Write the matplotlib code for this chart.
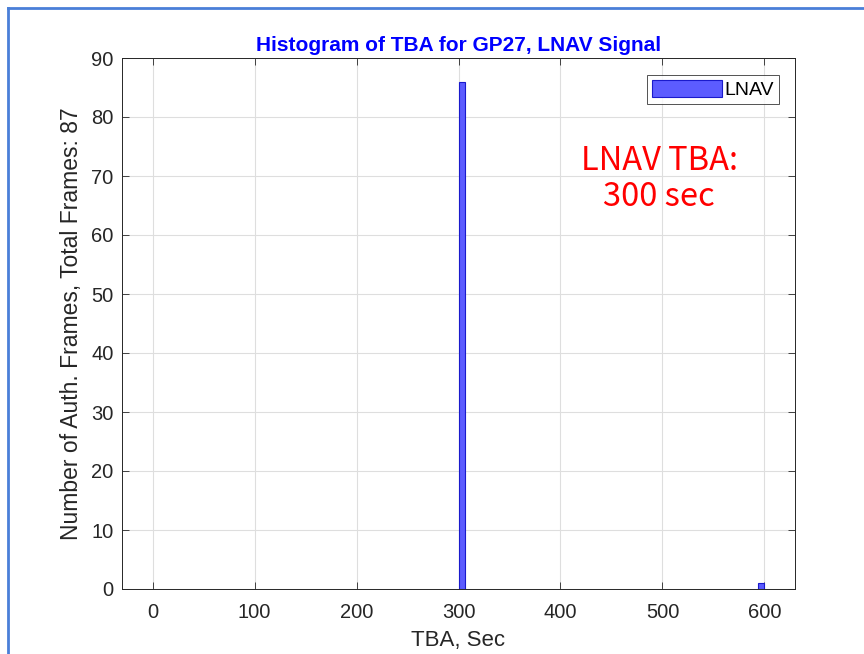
import numpy as np
import matplotlib
matplotlib.use('Agg')
from matplotlib import pyplot as plt
from matplotlib.lines import Line2D

# histogram bins (left edges, width) and counts
bin_lefts = [300.0, 593.5]
bin_width = 6.5
counts = [86, 1]
xticks = [0, 100, 200, 300, 400, 500, 600]
yticks = [0, 10, 20, 30, 40, 50, 60, 70, 80, 90]
total_frames = 87

plt.rcParams['font.family'] = ['Liberation Sans', 'DejaVu Sans']
fig = plt.figure(figsize=(8.64, 6.54), dpi=100)
ax = fig.add_axes([122/864, 1-589/654, (795-122)/864, (589-58)/654])

ax.bar(bin_lefts, counts, width=bin_width, align='edge',
       facecolor='#5c5cff', edgecolor='#1a1acc', linewidth=0.8, label='LNAV', zorder=3)

ax.set_xlim(-30, 630)
ax.set_ylim(0, 90)
ax.set_xticks(xticks)
ax.set_yticks(yticks)
ax.grid(True, color='#dedede', linewidth=0.8, zorder=0)
ax.set_axisbelow(True)
ax.tick_params(direction='in', length=5, colors='#262626', labelsize=14.5,
               top=True, right=True, width=0.6, pad=6)
ax.tick_params(axis='x', pad=10)
for s in ax.spines.values():
    s.set_color('#262626')
    s.set_linewidth(0.7)

ax.set_xlabel('TBA, Sec', fontsize=16, color='#262626', labelpad=6)
ax.set_ylabel('Number of Auth. Frames, Total Frames: %d' % total_frames,
              fontsize=16.5, color='#262626', labelpad=6)
ax.set_title('Histogram of TBA for GP27, LNAV Signal', fontsize=15,
             fontweight='bold', color='#0000ff', pad=5)

leg = ax.legend(loc='upper right', bbox_to_anchor=(0.9762, 0.968), fontsize=14,
                frameon=True, fancybox=False, edgecolor='#262626', borderpad=0.25,
                handlelength=3.6, handleheight=0.95, handletextpad=0.15,
                borderaxespad=0)
leg.get_frame().set_linewidth(0.7)

ax.text(0.798, 0.772, 'LNAV TBA:\n300 sec', transform=ax.transAxes,
        ha='center', va='center', color='#ff0000', fontsize=23.5,
        family=['Noto Sans CJK JP', 'DejaVu Sans'], linespacing=1.15)

# screenshot frame
fig.add_artist(Line2D([8/864, 8/864], [0, 1-8/654], transform=fig.transFigure,
                      color='#4a7fd8', linewidth=2))
fig.add_artist(Line2D([8/864, 1], [1-8/654, 1-8/654], transform=fig.transFigure,
                      color='#4a7fd8', linewidth=2))

fig.savefig('out.png', dpi=100)
